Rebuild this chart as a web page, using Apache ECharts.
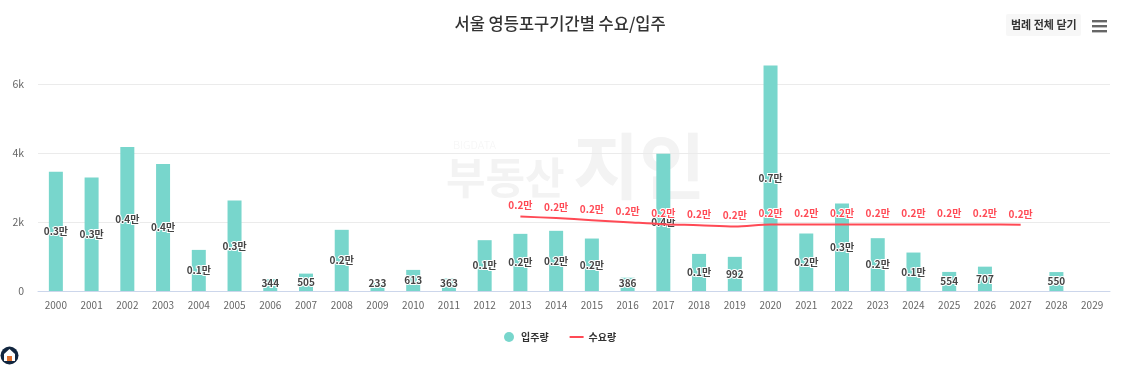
<!DOCTYPE html>
<html><head><meta charset="utf-8">
<style>html,body{margin:0;padding:0;background:#fff}#c{width:1127px;height:367px}</style>
<script src="https://cdn.jsdelivr.net/npm/echarts@6/dist/echarts.min.js"></script>
</head><body><div id="c"></div>
<script>
const years = ['2000','2001','2002','2003','2004','2005','2006','2007','2008','2009','2010','2011','2012','2013','2014','2015','2016','2017','2018','2019','2020','2021','2022','2023','2024','2025','2026','2027','2028','2029'];
const supply = [3466,3300,4184,3690,1194,2631,344,505,1777,233,613,363,1476,1660,1748,1524,386,3990,1078,992,6553,1670,2544,1534,1117,554,707,null,550,null];
const demand = [null,null,null,null,null,null,null,null,null,null,null,null,null,2165,2117,2058,2000,1942,1913,1874,1935,1932,1930,1930,1930,1930,1930,1925,null,null];
const yTicks = {0:'0',2000:'2k',4000:'4k',6000:'6k'};
const FONT = '"Noto Sans CJK KR","Noto Sans",sans-serif';
const fmt = v => v >= 1000 ? (v/10000).toFixed(1)+'만' : String(v);
const chart = echarts.init(document.getElementById('c'), null, {renderer:'canvas'});
chart.setOption({
  animation:false,
  textStyle:{fontFamily:FONT},
  title:{text:'서울 영등포구기간별 수요/입주',left:449.5,top:10,itemGap:0,
    textStyle:{fontFamily:FONT,fontSize:16.5,fontWeight:500,color:'#333'}},
  legend:{bottom:20,left:499,itemGap:21,itemWidth:14,itemHeight:10,
    textStyle:{fontFamily:FONT,fontSize:10,fontWeight:'bold',color:'#333'},
    data:[{name:'입주량',icon:'circle'},{name:'수요량',icon:'path://M0 0L0 0M0 4H14V6H0ZM14 10L14 10'}]},
  grid:{left:38,right:17,top:50,height:241},
  xAxis:{type:'category',data:years,
    axisTick:{show:false},axisLine:{lineStyle:{color:'#ccd6eb',width:1}},
    axisLabel:{color:'#666',fontSize:10,margin:9,interval:0}},
  yAxis:{type:'value',min:0,max:7000,interval:2000,
    axisLine:{show:false},axisTick:{show:false},
    axisLabel:{color:'#666',fontSize:10.5,margin:14,showMaxLabel:false,formatter:v=>yTicks[v]},
    splitLine:{showMaxLine:false,lineStyle:{color:'#ebebeb',width:1}}},
  graphic:[
    {type:'text',z:-1,left:453,top:139,style:{text:'BIGDATA',font:'300 11px '+FONT,letterSpacing:9,fill:'#f5f5f5'}},
    {type:'text',z:-1,left:446,top:156,style:{text:'부동산',font:'bold 43px '+FONT,fill:'#f3f3f3'}},
    {type:'text',z:-1,left:573,top:130,style:{text:'지인',font:'bold 72px '+FONT,fill:'#f3f3f3'}},
    {type:'rect',shape:{x:1006,y:14,width:75,height:22,r:2},style:{fill:'#f7f7f7'}},
    {type:'text',left:1011,top:19,style:{text:'범례 전체 닫기',font:'bold 11px '+FONT,fill:'#333'}},
    {type:'rect',shape:{x:1092,y:20,width:15,height:2.4},style:{fill:'#666'}},
    {type:'rect',shape:{x:1092,y:25,width:15,height:2.4},style:{fill:'#666'}},
    {type:'rect',shape:{x:1092,y:30,width:15,height:2.4},style:{fill:'#666'}},
    {type:'circle',shape:{cx:9.5,cy:355.5,r:9},style:{fill:'#12263f'}},
    {type:'polygon',shape:{points:[[9.5,349],[15,354],[15,361],[4,361],[4,354]]},style:{fill:'#fff'}},
    {type:'rect',shape:{x:7,y:356,width:5,height:5},style:{fill:'#e0702f'}}
  ],
  series:[
    {name:'입주량',type:'bar',data:supply.map(v=>v==null?null:{value:v,
        label:v<505?{position:'insideBottom',distance:3}:{position:'inside'}}),
     barWidth:14,itemStyle:{color:'#78d6cc'},
     label:{show:true,color:'#444',fontSize:10,fontWeight:'bold',textBorderColor:'#fff',textBorderWidth:2,
       formatter:p=>fmt(p.value)}},
    {name:'수요량',type:'line',data:demand,smooth:0.3,showSymbol:true,showAllSymbol:true,symbol:'circle',symbolSize:0,connectNulls:false,
     lineStyle:{color:'#ff4a55',width:2},itemStyle:{color:'#ff4a55'},
     label:{show:true,position:'top',distance:6,color:'#ff4a55',fontSize:10,fontWeight:'bold',textBorderColor:'#fff',textBorderWidth:2,
       formatter:p=>fmt(p.value)}}
  ]
});
</script></body></html>
